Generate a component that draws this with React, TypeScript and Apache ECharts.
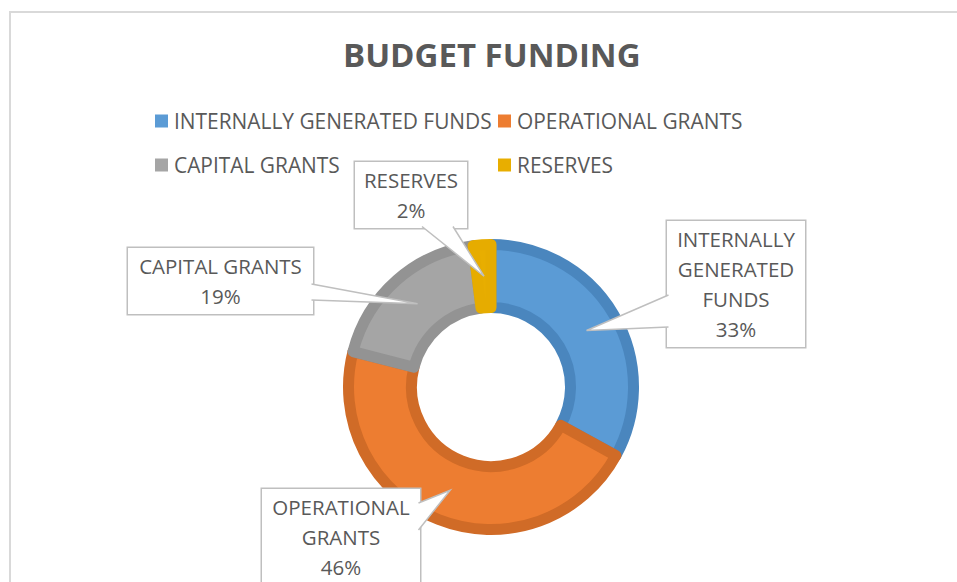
import React, { useEffect, useRef } from "react";
import * as echarts from "echarts";

// ---- data ----
const categories = ["INTERNALLY GENERATED FUNDS", "OPERATIONAL GRANTS", "CAPITAL GRANTS", "RESERVES"];
const shares = [33, 46, 19, 2];
const labelWraps = ["INTERNALLY\nGENERATED\nFUNDS", "OPERATIONAL\nGRANTS", "CAPITAL GRANTS", "RESERVES"];
const legendColumnA = ["INTERNALLY GENERATED FUNDS", "CAPITAL GRANTS"];
const legendColumnB = ["OPERATIONAL GRANTS", "RESERVES"];
const titleText = "BUDGET FUNDING";

// ---- styles ----
const fills = ["#5B9BD5", "#ED7D31", "#A5A5A5", "#E8AE00"];
const edges = ["#4A86BE", "#D06B27", "#939393", "#E6AC00"];
const TEXT = "#595959";
const FONT = "Open Sans";
const CX = 491;
const CY = 387;
const R_IN = 74;
const R_OUT = 148;
const BORDER = 11;
const LINE_H = 30;
const PAD_Y = 3;
const PAD_X = 6;

// callout boxes (layout)
const boxes = [
  { x: 667, y: 221, w: 138, side: "left", b: [295, 327] },
  { x: 262, y: 489, w: 158, side: "right", b: [503, 530] },
  { x: 128, y: 248, w: 185, side: "right", b: [284, 300] },
  { x: 355, y: 162, w: 112, side: "bottom", b: [422, 453] },
];

function boxHeight(i: number) {
  const lines = labelWraps[i].split("\n").length + 1;
  return lines * LINE_H + PAD_Y * 2;
}

function tipPoint(i: number) {
  const total = shares.reduce((a, b) => a + b, 0);
  let start = 0;
  for (let k = 0; k < i; k++) start += shares[k];
  const mid = ((start + shares[i] / 2) / total) * Math.PI * 2;
  const r = (R_IN + R_OUT) / 2;
  return [CX + r * Math.sin(mid), CY - r * Math.cos(mid)];
}

function wedge(i: number) {
  const bx = boxes[i];
  const h = boxHeight(i);
  const inset = 1.5;
  let p1: number[];
  let p2: number[];
  if (bx.side === "left") {
    p1 = [bx.x + inset, bx.b[0]];
    p2 = [bx.x + inset, bx.b[1]];
  } else if (bx.side === "right") {
    p1 = [bx.x + bx.w - inset, bx.b[0]];
    p2 = [bx.x + bx.w - inset, bx.b[1]];
  } else {
    p1 = [bx.b[0], bx.y + h - inset];
    p2 = [bx.b[1], bx.y + h - inset];
  }
  const tip = tipPoint(i);
  return [
    {
      type: "polygon",
      z: 100,
      silent: true,
      shape: { points: [p1, p2, tip] },
      style: { fill: "#FFFFFF", stroke: "none" },
    },
    {
      type: "polyline",
      z: 101,
      silent: true,
      shape: { points: [p1, tip, p2] },
      style: { fill: "none", stroke: "#BFBFBF", lineWidth: 1.5 },
    },
  ];
}

export default function App() {
  const ref = useRef<HTMLDivElement>(null);

  useEffect(() => {
    if (!ref.current) return;
    const chart = echarts.init(ref.current, null, { renderer: "svg" });

    const data = categories.map((name, i) => ({
      name,
      value: shares[i],
      itemStyle: { color: fills[i], borderColor: edges[i] },
      label: { width: boxes[i].w - PAD_X * 2 },
    }));

    const legendBase = {
      orient: "vertical",
      top: 109,
      padding: 0,
      itemGap: 20,
      itemWidth: 13,
      itemHeight: 13,
      icon: "rect",
      itemStyle: { borderWidth: 0 },
      textStyle: { color: TEXT, fontFamily: FONT, fontSize: 20.9, lineHeight: 24, padding: [0, 0, 0, 1] },
    };

    const graphics: any[] = [
      {
        type: "rect",
        silent: true,
        z: 0,
        shape: { x: 10, y: 12, width: 1200, height: 900 },
        style: { fill: "none", stroke: "#D9D9D9", lineWidth: 2 },
      },
    ];
    categories.forEach((_, i) => graphics.push(...wedge(i)));

    chart.setOption({
      animation: false,
      backgroundColor: "#FFFFFF",
      title: {
        text: titleText,
        left: 343,
        top: 38,
        padding: 0,
        textStyle: { color: TEXT, fontFamily: FONT, fontWeight: "bold", fontSize: 33 },
      },
      legend: [
        { ...legendBase, left: 155, data: legendColumnA },
        { ...legendBase, left: 498, data: legendColumnB },
      ],
      graphic: graphics,
      series: [
        {
          type: "pie",
          center: [CX, CY],
          radius: [R_IN + BORDER / 2, R_OUT - BORDER / 2],
          startAngle: 90,
          clockwise: true,
          avoidLabelOverlap: false,
          percentPrecision: 0,
          itemStyle: { borderWidth: BORDER },
          emphasis: { disabled: true },
          label: {
            show: true,
            position: "outside",
            formatter: (p: any) => `${labelWraps[p.dataIndex]}\n${p.percent}%`,
            color: TEXT,
            fontFamily: FONT,
            fontSize: 20.5,
            lineHeight: LINE_H,
            align: "center",
            backgroundColor: "#FFFFFF",
            borderColor: "#BFBFBF",
            borderWidth: 1.5,
            padding: [PAD_Y, PAD_X],
          },
          labelLine: { show: false },
          labelLayout: (params: any) => {
            const bx = boxes[params.dataIndex];
            return { x: bx.x + bx.w / 2, y: bx.y, align: "center", verticalAlign: "top" };
          },
          data,
        },
      ],
    });

    return () => chart.dispose();
  }, []);

  return (
    <div
      ref={ref}
      style={{ position: "fixed", left: 0, top: 0, width: 957, height: 582, background: "#fff" }}
    />
  );
}
